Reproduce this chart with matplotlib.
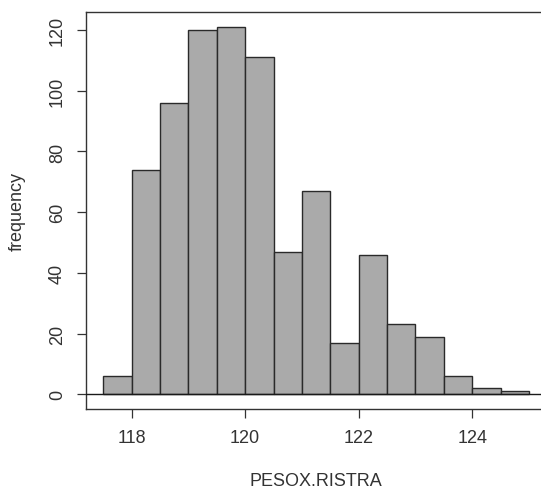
import matplotlib
matplotlib.use("Agg")
import matplotlib.pyplot as plt
import numpy as np

# Data
breaks = [117.5, 118.0, 118.5, 119.0, 119.5, 120.0, 120.5, 121.0,
          121.5, 122.0, 122.5, 123.0, 123.5, 124.0, 124.5, 125.0]
counts = [6, 74, 96, 120, 121, 111, 47, 67, 17, 46, 23, 19, 6, 2, 1]
x_ticks = [118, 120, 122, 124]
y_ticks = [0, 20, 40, 60, 80, 100, 120]
x_label = "PESOX.RISTRA"
y_label = "frequency"

plt.rcParams['font.family'] = ['Liberation Sans', 'DejaVu Sans']

W, H = 541, 489
fig = plt.figure(figsize=(W / 100, H / 100), dpi=100)
left_px, right_px, top_px, bottom_px = 86.2, 546.0, 13.3, 410.0
ax = fig.add_axes([left_px / W, 1 - bottom_px / H,
                   (right_px - left_px) / W, (bottom_px - top_px) / H])

edges = np.array(breaks)
ax.bar(edges[:-1], counts, width=np.diff(edges), align='edge',
       color='#aaaaaa', edgecolor='#2a2a2a', linewidth=1.0, zorder=2)
ax.axhline(0, color='#1a1a1a', linewidth=1.0, zorder=3)

rng = edges[-1] - edges[0]
ax.set_xlim(edges[0] - 0.04 * rng, edges[-1] + 0.04 * rng)
ymax = max(counts)
ax.set_ylim(-0.04 * ymax, ymax * 1.04)

ax.set_xticks(x_ticks)
ax.set_yticks(y_ticks)
ax.set_yticklabels([str(v) for v in y_ticks], rotation=90, va='center')
ax.tick_params(axis='both', direction='out', length=6.5, width=0.9,
               color='#333333', labelsize=13, labelcolor='#333333', pad=8)
for s in ax.spines.values():
    s.set_color('#333333')
    s.set_linewidth(1.0)

ax.set_xlabel(x_label, fontsize=13, color='#333333')
ax.set_ylabel(y_label, fontsize=13, color='#333333')
ax.xaxis.label.set_va('center')
ax.yaxis.label.set_va('center')
ax.xaxis.set_label_coords(0.5, (bottom_px - 482) / (bottom_px - top_px))
ax.yaxis.set_label_coords((17 - left_px) / (right_px - left_px), 0.5)

fig.savefig("out.png", dpi=100)
